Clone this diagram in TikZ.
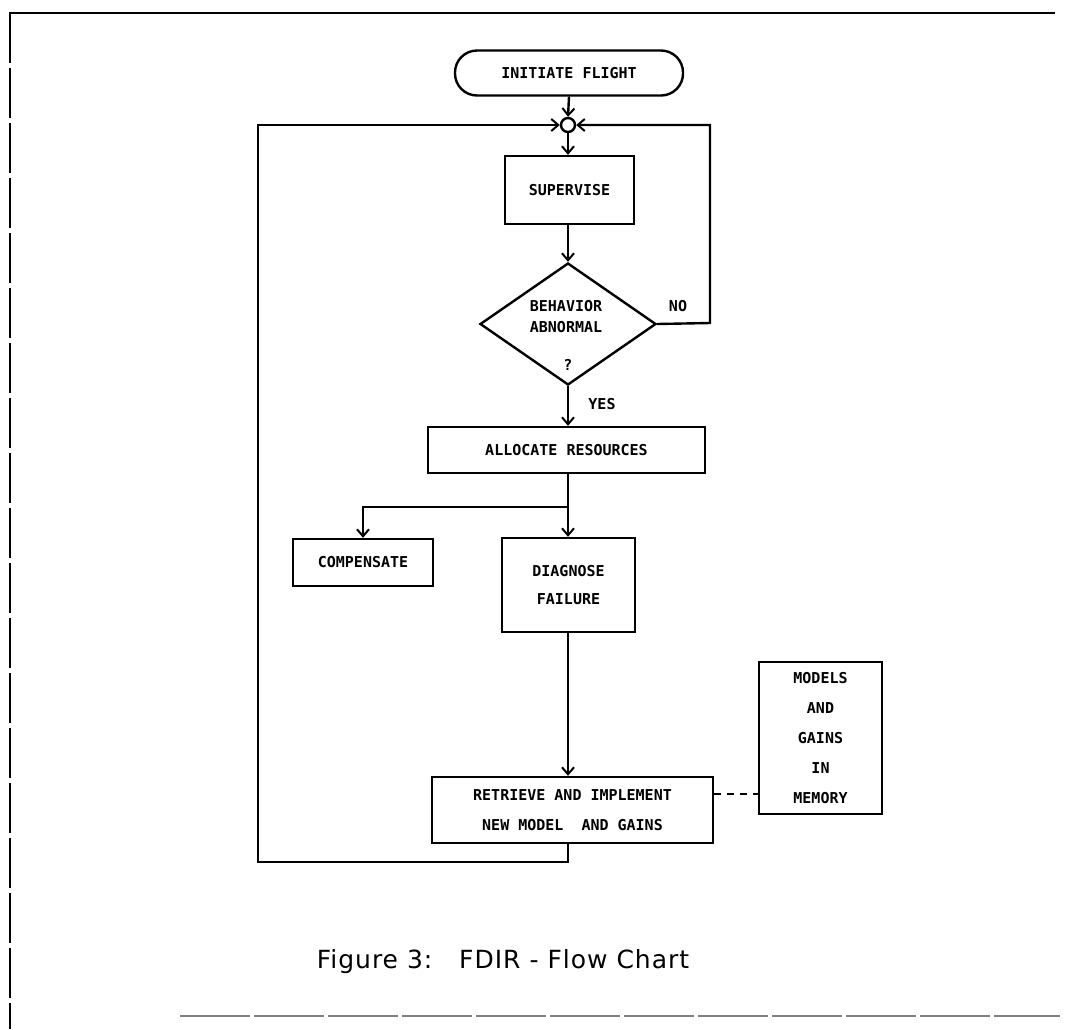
\documentclass[tikz,border=0pt]{standalone}
\usepackage{fontspec}
\usetikzlibrary{arrows.meta,shapes.geometric}
\newfontfamily\boxfont{DejaVu Sans Mono Bold}
\newfontfamily\capfont[LetterSpace=4]{DejaVu Sans}
\begin{document}
\begin{tikzpicture}[x=1pt,y=-1pt,
  line width=2.4pt,
  every node/.style={inner sep=0pt,font=\boxfont\fontsize{15}{30}\selectfont},
  boxnode/.style={draw,rectangle,anchor=center,align=center},
  flow/.style={-{Straight Barb[length=7pt,width=12pt,line width=2pt]}},
  lbl/.style={anchor=center}]
\useasboundingbox (0,0) rectangle (1067,1029);
% frame
\draw[line width=2pt] (10,22) -- (10,13) -- (1055,13);
\draw[line width=1.6pt,dash pattern=on 50pt off 5pt] (10,13) -- (10,1029);
\draw[line width=1.4pt,gray,dash pattern=on 70pt off 4pt] (180,1016) -- (1060,1016);
% nodes
\node[boxnode,rounded corners=22pt,minimum width=228,minimum height=45] (init) at (569,73) {INITIATE FLIGHT};
\node[draw,circle,minimum size=14pt] (junc) at (568,125) {};
\node[boxnode,minimum width=129,minimum height=68] (sup) at (569.5,190) {SUPERVISE};
\node[draw,diamond,minimum width=176,minimum height=122,anchor=center] (dec) at (568,324) {};
\node[lbl,align=center,font=\boxfont\fontsize{15}{21}\selectfont] (dectxt) at (566,317) {BEHAVIOR\\ABNORMAL};
\node[lbl] (q) at (568,365) {?};
\node[lbl] (no) at (678,306) {NO};
\node[lbl] (yes) at (602,404) {YES};
\node[boxnode,minimum width=277,minimum height=46] (alloc) at (566.5,450) {ALLOCATE RESOURCES};
\node[boxnode,minimum width=140,minimum height=47] (comp) at (363,562.5) {COMPENSATE};
\node[boxnode,minimum width=133,minimum height=94,font=\boxfont\fontsize{15}{28}\selectfont] (diag) at (568.5,585) {DIAGNOSE\\FAILURE};
\node[boxnode,minimum width=281,minimum height=66] (retr) at (572.5,810) {RETRIEVE AND IMPLEMENT\\NEW MODEL\ \ AND GAINS};
\node[boxnode,minimum width=123,minimum height=152] (mem) at (820.5,738) {MODELS\\AND\\GAINS\\IN\\MEMORY};
\node[lbl,font=\capfont\fontsize{25}{28}\selectfont] (cap) at (503,962) {Figure 3:\ \ \ FDIR - Flow Chart};
% coordinates
\coordinate (branch) at (568,507);
\coordinate (nocorner) at (710,323);
\coordinate (nouptop) at (710,125);
\coordinate (fbdown) at (568,862);
\coordinate (fbleft) at (258,862);
\coordinate (fbtop) at (258,125);
\coordinate (dashy) at (0,794);
% connectors
\draw[flow] (init.south) -- (junc.north);
\draw[flow] (junc.south) -- (junc.south |- sup.north);
\draw[flow] (sup.south -| dec.north) -- (dec.north);
\draw[flow] (dec.east) -- (nocorner) -- (nouptop) -- (junc.east);
\draw[flow] (dec.south) -- (dec.south |- alloc.north);
\draw (alloc.south -| branch) -- (branch);
\draw[flow] (branch) -- (branch |- diag.north);
\draw[flow] (branch) -- (branch -| comp.north) -- (comp.north);
\draw[flow] (diag.south -| branch) -- (branch |- retr.north);
\draw[flow] (retr.south -| fbdown) -- (fbdown) -- (fbleft) -- (fbtop) -- (junc.west);
\draw[dash pattern=on 7pt off 6pt] (retr.east |- dashy) -- (mem.west |- dashy);
\end{tikzpicture}
\end{document}
